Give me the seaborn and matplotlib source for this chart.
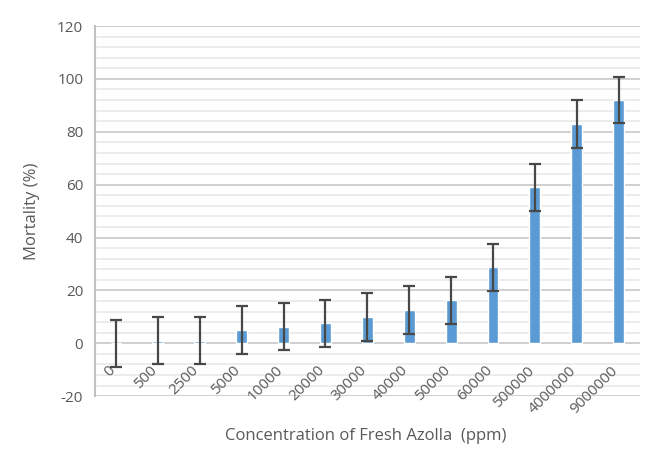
import pandas as pd
import matplotlib.pyplot as plt
import seaborn as sns
from matplotlib.ticker import MultipleLocator

# dados
concentracoes = ["0", "500", "2500", "5000", "10000", "20000", "30000", "40000",
                 "50000", "60000", "500000", "4000000", "9000000"]
mortalidade = [0, 1, 1, 5, 6.3, 7.5, 10, 12.5, 16.2, 28.7, 59, 83, 92]
erro = [8.8, 9, 9, 9, 9, 9, 9, 9, 9, 9, 9, 9, 8.8]

df = pd.DataFrame({"conc": concentracoes, "mort": mortalidade, "err": erro})

sns.set_style("white")
plt.rcParams["font.family"] = ["Open Sans", "DejaVu Sans"]
plt.rcParams["axes.unicode_minus"] = False
cinza = "#595959"

fig = plt.figure(figsize=(6.57, 4.65), dpi=100)
ax = fig.add_axes([0.1446, 0.148, 0.829, 0.796])

sns.barplot(data=df, x="conc", y="mort", order=concentracoes, color="#5B9BD5",
            saturation=1, width=0.26, ax=ax, zorder=3)
ax.errorbar(range(len(concentracoes)), df["mort"], yerr=df["err"], fmt="none",
            ecolor="#484848", elinewidth=1.6, capsize=4.2, capthick=1.6, zorder=4)

ax.set_xlim(-0.5, 12.5)
ax.set_ylim(-20, 120)
ax.yaxis.set_major_locator(MultipleLocator(20))
ax.yaxis.set_minor_locator(MultipleLocator(4))
ax.grid(which="major", axis="y", color="#cccccc", linewidth=1.3, zorder=0)
ax.grid(which="minor", axis="y", color="#ebebeb", linewidth=1.3, zorder=0)
ax.set_axisbelow(True)

for s in ["top", "right", "bottom"]:
    ax.spines[s].set_visible(False)
ax.spines["left"].set_color("#c0c0c0")
ax.spines["left"].set_linewidth(1.5)

ax.tick_params(axis="y", which="major", direction="out", length=5, color="#c0c0c0",
               labelsize=11, labelcolor=cinza, width=1.2)
ax.tick_params(axis="y", which="minor", length=0)
ax.set_xticks([])

# rótulos do eixo x inclinados, abaixo da linha do zero
for i, lab in enumerate(concentracoes):
    ax.text(i + 0.05, -7.5, lab, rotation=45, ha="right", va="top",
            fontsize=11, color=cinza)

ax.set_xlabel("")
ax.set_ylabel("Mortality (%)", fontsize=12, color=cinza, labelpad=12)
fig.text(0.556, 0.062, "Concentration of Fresh Azolla  (ppm)", ha="center",
         va="center", fontsize=12, color=cinza)

fig.savefig("out.png", dpi=100)
